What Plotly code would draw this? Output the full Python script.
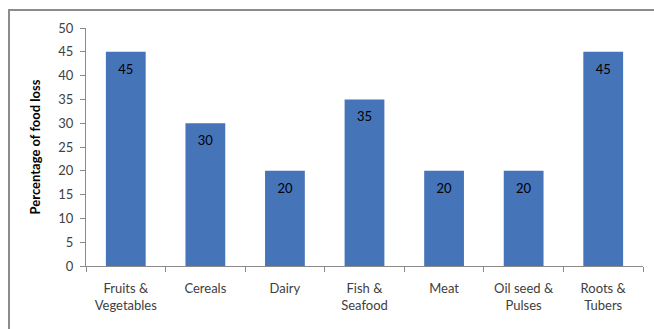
import plotly.graph_objects as go

categories = ["Fruits &<br>Vegetables", "Cereals", "Dairy", "Fish &<br>Seafood", "Meat", "Oil seed &<br>Pulses", "Roots &<br>Tubers"]
values = [45, 30, 20, 35, 20, 20, 45]
y_ticks = [0, 5, 10, 15, 20, 25, 30, 35, 40, 45, 50]

FONT = "Lato"

fig = go.Figure()
fig.add_trace(go.Bar(
    x=categories, y=values,
    marker=dict(color="#4674b8", line=dict(width=0)),
    width=0.5, hoverinfo="skip",
))
fig.add_trace(go.Scatter(
    x=categories, y=values, mode="markers+text",
    text=[str(v) for v in values], textposition="bottom center",
    marker=dict(size=18, opacity=0),
    textfont=dict(family=FONT, size=13, color="#000000"),
))

fig.update_layout(
    width=654, height=329,
    margin=dict(l=86, r=11, t=28, b=63),
    paper_bgcolor="white", plot_bgcolor="white",
    showlegend=False,
    font=dict(family=FONT, size=13, color="#404040"),
    xaxis=dict(
        type="category", showline=True, linecolor="#8a8a8a", linewidth=1,
        ticks="outside", tickson="boundaries", ticklen=5, tickcolor="#8a8a8a",
        showgrid=False, tickfont=dict(family=FONT, size=13, color="#404040"),
        ticklabelstandoff=10,
    ),
    yaxis=dict(
        range=[0, 50], tickvals=y_ticks, showline=True, linecolor="#8a8a8a", linewidth=1,
        ticks="outside", ticklen=5, tickcolor="#8a8a8a", showgrid=False, zeroline=False,
        tickfont=dict(family=FONT, size=13, color="#404040"),
        ticklabelstandoff=4,
        title=dict(text="<b>Percentage of food loss</b>", font=dict(family=FONT, size=13, color="#000000"), standoff=14),
    ),
    shapes=[dict(type="rect", xref="paper", yref="paper",
                 x0=(9 - 86) / 557, x1=1.2, y0=-0.5, y1=1 + (28 - 10) / 238,
                 line=dict(color="#8c8c8c", width=2), fillcolor="rgba(0,0,0,0)", layer="below")],
)

fig.write_html("out.html")
